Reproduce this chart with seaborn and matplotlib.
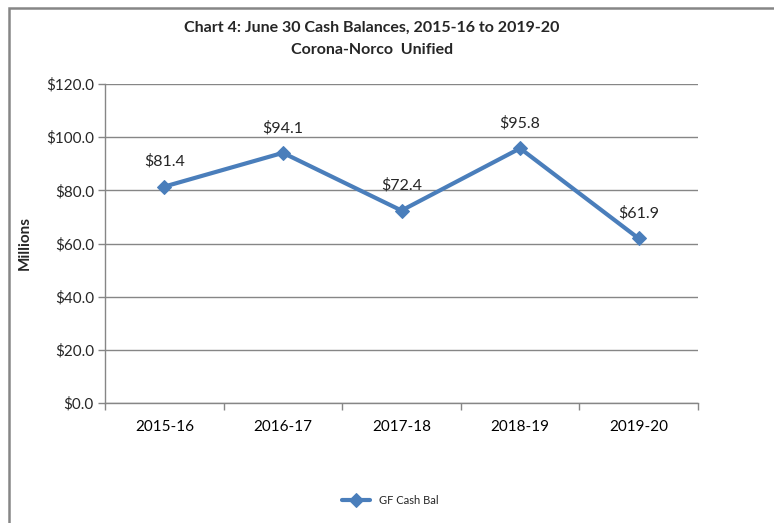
import matplotlib
matplotlib.use("Agg")
import matplotlib.pyplot as plt
import matplotlib.patches as mpatches
from matplotlib.ticker import FixedLocator, FuncFormatter
import seaborn as sns
import pandas as pd

years = ["2015-16", "2016-17", "2017-18", "2018-19", "2019-20"]
cash_bal = [81.4, 94.1, 72.4, 95.8, 61.9]
series_name = "GF Cash Bal"
y_ticks = [0, 20, 40, 60, 80, 100, 120]

sns.set_theme(style="white")
plt.rcParams['font.family'] = ['Lato', 'DejaVu Sans']

df = pd.DataFrame({"Year": years, "Value": cash_bal, "Series": series_name})

fig = plt.figure(figsize=(7.74, 5.23), dpi=100)
ax = fig.add_axes([105/774, 1-403/523, (698-105)/774, (403-84)/523])

line_color = "#4A7EBB"
grid_color = "#868686"

sns.lineplot(data=df, x="Year", y="Value", hue="Series", palette=[line_color],
             marker="D", markersize=7, linewidth=3, markeredgecolor=line_color,
             ax=ax, sort=False)

ax.set_xlim(-0.5, len(years) - 0.5)
ax.set_ylim(0, 120)
ax.set_yticks(y_ticks)
ax.yaxis.set_major_formatter(FuncFormatter(lambda v, p: f"${v:.1f}"))
ax.grid(axis="y", color=grid_color, linewidth=1)
ax.set_axisbelow(True)

ax.set_xticks(range(len(years)))
ax.set_xticklabels(years)
ax.xaxis.set_minor_locator(FixedLocator([i - 0.5 for i in range(len(years) + 1)]))
ax.tick_params(axis="x", which="major", length=0, labelsize=11, pad=12, colors="black")
ax.tick_params(axis="x", which="minor", length=5, width=1, color=grid_color, direction="out", bottom=True)
ax.tick_params(axis="y", which="major", length=5, width=1, color=grid_color, direction="out",
               labelsize=11, pad=3, left=True)

for s in ["top", "right"]:
    ax.spines[s].set_visible(False)
for s in ["left", "bottom"]:
    ax.spines[s].set_color(grid_color)
    ax.spines[s].set_linewidth(1)

ax.set_xlabel("")
ax.set_ylabel("Millions", fontsize=11, fontweight="bold", labelpad=10)

for i, v in enumerate(cash_bal):
    ax.annotate(f"${v:.1f}", (i, v), xytext=(0, 18), textcoords="offset points",
                ha="center", va="center", fontsize=11.5)

fig.text(372/774, 1-28/523, "Chart 4: June 30 Cash Balances, 2015-16 to 2019-20",
         ha="center", va="center", fontsize=11.5, fontweight="bold")
fig.text(372/774, 1-50/523, "Corona-Norco  Unified",
         ha="center", va="center", fontsize=11.5, fontweight="bold")

leg = ax.legend(loc="center", bbox_to_anchor=(390/774, 1-500/523), bbox_transform=fig.transFigure,
                frameon=False, fontsize=8, handlelength=2.5)

border = mpatches.Rectangle((8.5/774, -0.05), 1.2, 1 - 7.5/523 + 0.05, transform=fig.transFigure,
                            fill=False, edgecolor=grid_color, linewidth=1.8, clip_on=False)
fig.patches.append(border)

fig.savefig("out.png", dpi=100)
